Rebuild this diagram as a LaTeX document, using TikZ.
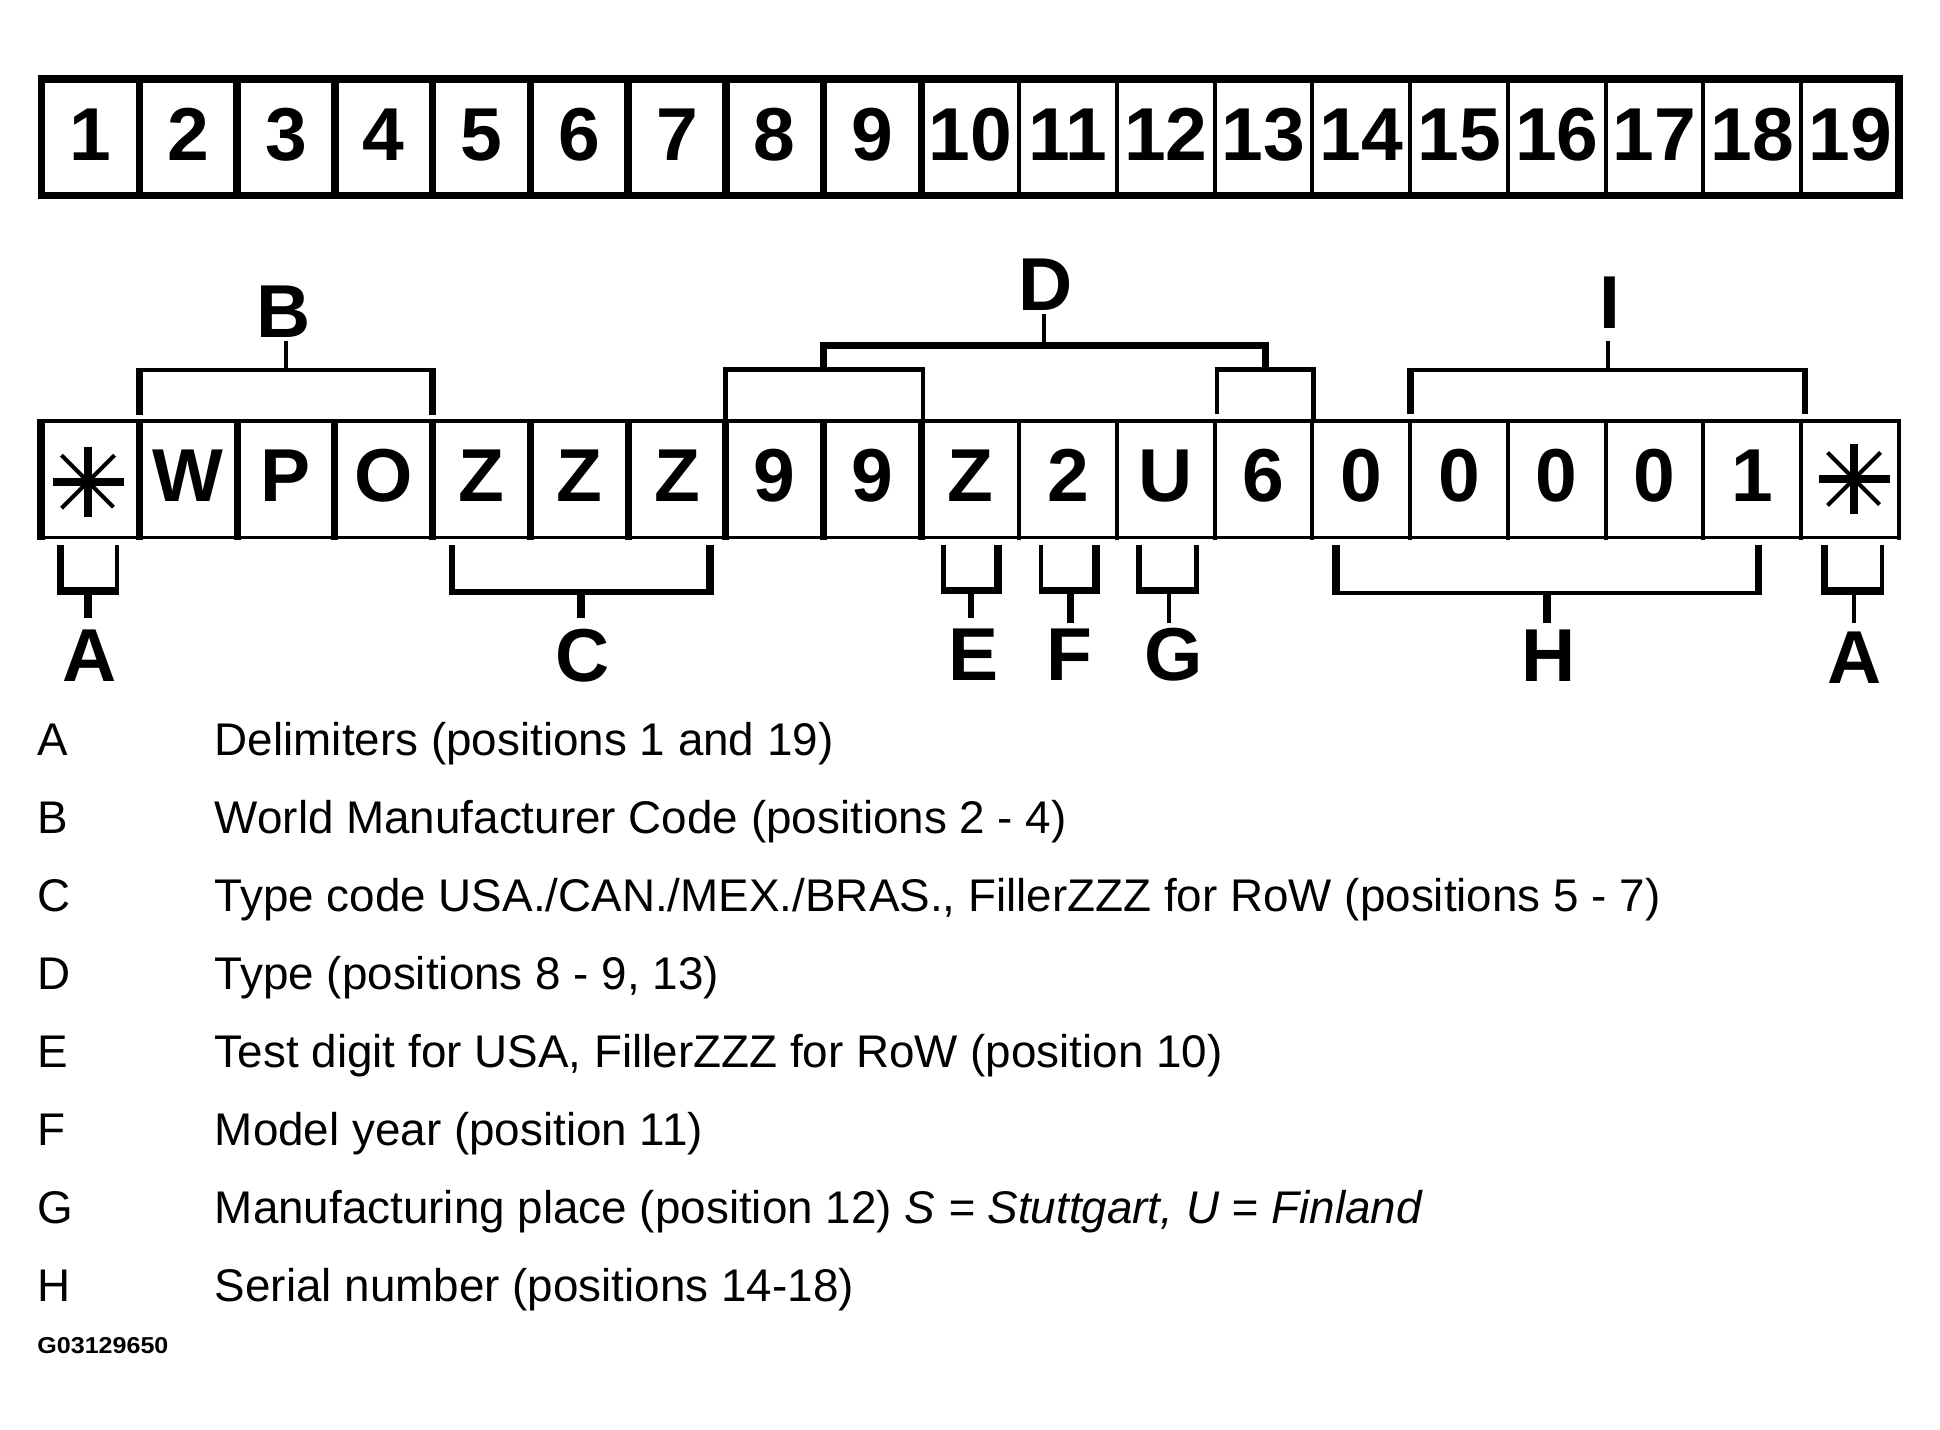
\documentclass[tikz,border=0pt]{standalone}
\usepackage{fontspec}
\usepackage{graphicx}
\setmainfont{Liberation Sans}
\tikzset{
  lw/.style={line width=#1*0.5pt},
  big/.style={font=\fontsize{37.5pt}{40pt}\selectfont\bfseries, inner sep=0pt, anchor=base},
  leg/.style={font=\fontsize{22.9pt}{27pt}\selectfont, inner sep=0pt, anchor=base west},
}
% bottom bracket: xl wl xr wr yh wh xs ws yend
\newcommand\bbr[9]{%
  \draw[lw=#2] (#1,545) -- (#1,{#5+#6/2});
  \draw[lw=#4] (#3,545) -- (#3,{#5+#6/2});
  \draw[lw=#6] ({#1-#2/2},#5) -- ({#3+#4/2},#5);
  \draw[lw=#8] (#7,{#5+#6/2}) -- (#7,#9);
}
\newcommand\drawstar[2]{%
  \draw[lw=8] ({#1-35.5},#2) -- ({#1+35.5},#2);
  \draw[lw=8] (#1,{#2-35}) -- (#1,{#2+35});
  \draw[lw=4] ({#1-26.5},{#2-26.5}) -- ({#1+25.5},{#2+25.5});
  \draw[lw=4] ({#1+26.5},{#2-26.5}) -- ({#1-26.5},{#2+26.5});
}
\begin{document}
\begin{tikzpicture}[x=0.5pt,y=-0.5pt]
\fill[white] (0,0) rectangle (1940,1430);
\useasboundingbox (0,0) rectangle (1940,1430);

% ---------- top bar ----------
\draw[lw=7.7] (41.5,78.9) rectangle (1899,195.5);
\foreach \i in {1,...,9}{
  \draw[lw=7.5] ({41.5+97.76*\i},78.9) -- ({41.5+97.76*\i},195.5);
}
\foreach \i in {10,...,18}{
  \draw[lw=4] ({41.5+97.76*\i},78.9) -- ({41.5+97.76*\i},195.5);
}
\foreach \i in {1,...,19}{
  \node[big] (t\i) at ({41.5+97.76*(\i-0.5)},160) {\i};
}

% ---------- code row ----------
\draw[lw=3.5] (37.3,421) -- (1900.8,421);
\draw[lw=3.5] (37.3,537.7) -- (1900.8,537.7);
\draw[lw=7.7] (41.2,419.3) -- (41.2,539.5);
\foreach \i in {1,...,9}{
  \draw[lw=7] ({41.5+97.76*\i},419.3) -- ({41.5+97.76*\i},539.5);
}
\foreach \i in {10,...,19}{
  \draw[lw=4] ({41.5+97.76*\i},419.3) -- ({41.5+97.76*\i},539.5);
}
\foreach \ch [count=\k from 2] in {W,P,O,Z,Z,Z,9,9,Z,2,U,6,0,0,0,0,1}{
  \node[big] (c\k) at ({41.5+97.76*(\k-0.5)},501) {\ch};
}
\coordinate (c1) at (88,481.7);
\coordinate (c19) at (1854,479);
\drawstar{88}{481.7}
\drawstar{1854}{479}

% ---------- upper brackets ----------
% B
\draw[lw=7] (139.3,415) -- (139.3,368);
\draw[lw=7] (432.5,415) -- (432.5,368);
\draw[lw=4] (135.8,370) -- (436,370);
\draw[lw=3.5] (285.9,370) -- (285.9,341);
\node[big] (lB) at (284,337) {B};
% D
\draw[lw=7] (819.5,345.3) -- (1268.5,345.3);
\draw[lw=7] (823,342) -- (823,369.5);
\draw[lw=7] (1265,342) -- (1265,369.5);
\draw[lw=3.5] (1044,342) -- (1044,314);
\draw[lw=4.4] (722.5,369.5) -- (925,369.5);
\draw[lw=5] (725,367.3) -- (725,421);
\draw[lw=4] (923,367.3) -- (923,421);
\draw[lw=4.4] (1214.6,369.5) -- (1316,369.5);
\draw[lw=4] (1216.6,367.3) -- (1216.6,414);
\draw[lw=4.5] (1313.5,367.3) -- (1313.5,421);
\node[big] (lD) at (1046,310) {D};
% I
\draw[lw=4] (1406.5,369.5) -- (1808,369.5);
\draw[lw=7] (1410,367.5) -- (1410,414);
\draw[lw=6.3] (1804.7,367.5) -- (1804.7,414);
\draw[lw=3.5] (1608,369.5) -- (1608,341);
\node[big] (lI) at (1610,328) {I};

% ---------- lower brackets ----------
\bbr{60.7}{7}{117}{4}{591}{7.7}{88}{8}{618}
\bbr{452}{6.7}{709.8}{7.5}{592}{6}{581}{8}{618}
\bbr{943.5}{5}{998}{8}{590.5}{7.7}{971}{6.6}{618.3}
\bbr{1041}{4}{1096}{7.5}{590.5}{7.7}{1070}{7}{622.7}
\bbr{1139}{5.5}{1196}{5}{590.5}{7.7}{1169}{4}{622.7}
\bbr{1336}{8}{1758}{7}{593}{4.3}{1547}{8}{622.7}
\bbr{1824.5}{7}{1882}{4}{590.8}{7.6}{1854}{4.5}{622.8}
\node[big] (lA1) at (89.5,681) {A};
\node[big] (lC) at (582.5,681) {C};
\node[big] (lE) at (973.5,680) {E};
\node[big] (lF) at (1069,680) {F};
\node[big] (lG) at (1173.5,680) {G};
\node[big] (lH) at (1549,681) {H};
\node[big] (lA2) at (1855,683) {A};

% ---------- legend ----------
\node[leg] (kA) at (37.5,755) {A};
\node[leg] (xA) at (214.5,755) {Delimiters (positions 1 and 19)};
\node[leg] (kB) at (37.5,833) {B};
\node[leg] (xB) at (214.5,833) {World Manufacturer Code (positions 2 - 4)};
\node[leg] (kC) at (37.5,911) {C};
\node[leg] (xC) at (214.5,911) {Type code USA./CAN./MEX./BRAS., FillerZZZ for RoW (positions 5 - 7)};
\node[leg] (kD) at (37.5,989) {D};
\node[leg] (xD) at (214.5,989) {Type (positions 8 - 9, 13)};
\node[leg] (kE) at (37.5,1067) {E};
\node[leg] (xE) at (214.5,1067) {Test digit for USA, FillerZZZ for RoW (position 10)};
\node[leg] (kF) at (37.5,1145) {F};
\node[leg] (xF) at (214.5,1145) {Model year (position 11)};
\node[leg] (kG) at (37.5,1223) {G};
\node[leg] (xG) at (214.5,1223) {Manufacturing place (position 12) \textit{S = Stuttgart, U = Finland}};
\node[leg] (kH) at (37.5,1301) {H};
\node[leg] (xH) at (214.5,1301) {Serial number (positions 14-18)};
\node[anchor=base west, inner sep=0pt, font=\fontsize{11.5pt}{13pt}\selectfont\bfseries] (gid) at (37,1353) {\scalebox{1.09}[1]{G03129650}};
\end{tikzpicture}
\end{document}
